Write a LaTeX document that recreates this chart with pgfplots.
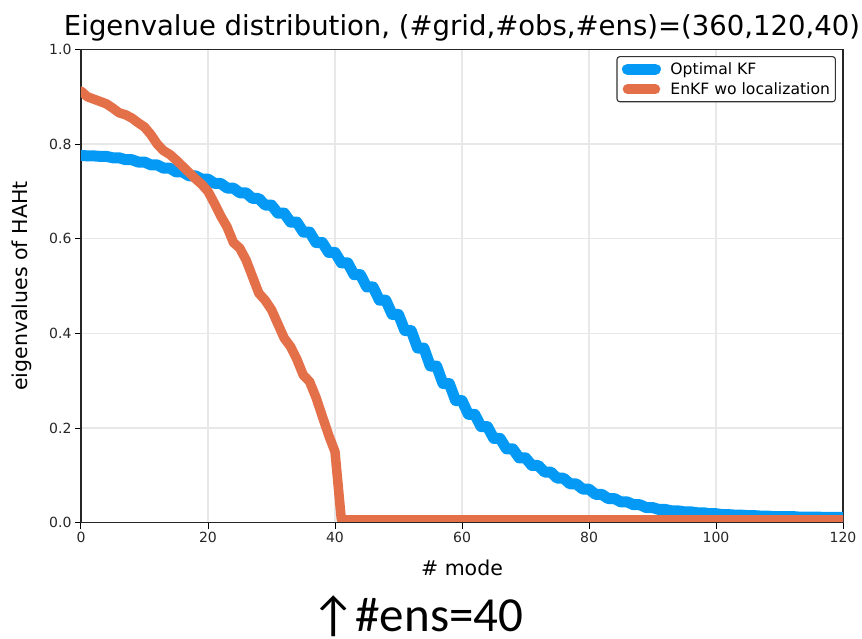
\documentclass[border=0pt]{standalone}
\usepackage{pgfplots}
\pgfplotsset{compat=1.18}
\usepackage{fontspec}
\setmainfont{DejaVu Sans}
\newfontfamily\notefont{Carlito}
\definecolor{kfblue}{RGB}{3,153,245}
\definecolor{enkforange}{RGB}{228,112,73}

% eigenvalues of H A H^T for the optimal Kalman filter (modes come in pairs)
\pgfplotstableread{
x y
0 0.776
1 0.775
2 0.775
3 0.774
4 0.774
5 0.771
6 0.771
7 0.767
8 0.767
9 0.762
10 0.762
11 0.756
12 0.756
13 0.749
14 0.749
15 0.741
16 0.741
17 0.733
18 0.733
19 0.726
20 0.726
21 0.717
22 0.717
23 0.707
24 0.707
25 0.697
26 0.697
27 0.685
28 0.685
29 0.671
30 0.671
31 0.654
32 0.654
33 0.635
34 0.635
35 0.614
36 0.614
37 0.592
38 0.592
39 0.571
40 0.571
41 0.549
42 0.549
43 0.524
44 0.524
45 0.498
46 0.498
47 0.470
48 0.470
49 0.440
50 0.440
51 0.406
52 0.406
53 0.369
54 0.369
55 0.331
56 0.331
57 0.294
58 0.294
59 0.258
60 0.258
61 0.229
62 0.229
63 0.203
64 0.203
65 0.178
66 0.178
67 0.156
68 0.156
69 0.137
70 0.137
71 0.121
72 0.121
73 0.107
74 0.107
75 0.094
76 0.094
77 0.082
78 0.082
79 0.071
80 0.071
81 0.060
82 0.060
83 0.051
84 0.051
85 0.044
86 0.044
87 0.038
88 0.038
89 0.032
90 0.032
91 0.028
92 0.028
93 0.025
94 0.025
95 0.023
96 0.023
97 0.021
98 0.021
99 0.019
100 0.019
101 0.017
102 0.017
103 0.016
104 0.016
105 0.015
106 0.015
107 0.014
108 0.014
109 0.013
110 0.013
111 0.013
112 0.013
113 0.012
114 0.012
115 0.012
116 0.012
117 0.011
118 0.011
119 0.011
120 0.011
}\optimalkf

% eigenvalues for the 40-member EnKF without localization
\pgfplotstableread{
x y
0 0.912
1 0.900
2 0.895
3 0.890
4 0.885
5 0.876
6 0.866
7 0.862
8 0.855
9 0.845
10 0.836
11 0.820
12 0.800
13 0.786
14 0.778
15 0.766
16 0.753
17 0.740
18 0.727
19 0.715
20 0.700
21 0.675
22 0.648
23 0.625
24 0.592
25 0.580
26 0.555
27 0.520
28 0.485
29 0.470
30 0.450
31 0.420
32 0.390
33 0.372
34 0.345
35 0.312
36 0.298
37 0.265
38 0.225
39 0.185
40 0.150
41 0.006
120 0.006
}\enkf

\begin{document}
\begin{tikzpicture}[x=1pt,y=1pt]
\path[use as bounding box] (0,0) rectangle (862,638);
\begin{axis}[
  at={(81pt,115.3pt)}, anchor=south west,
  scale only axis, width=762pt, height=473.3pt,
  xmin=0, xmax=120, ymin=0, ymax=1,
  xtick={0,20,40,60,80,100,120},
  ytick={0,0.2,0.4,0.6,0.8,1},
  yticklabel style={/pgf/number format/.cd, fixed, fixed zerofill, precision=1},
  /pgf/number format/assume math mode=true,
  ticklabel style={font=\fontsize{14}{16}\selectfont, text=black!85},
  tick align=outside, major tick length=6pt,
  tick style={black, line width=1pt},
  xtick pos=bottom, ytick pos=left,
  grid=major,
  major grid style={line width=1.2pt, color=black!9},
  axis line style={black!85, line width=1.2pt},
  clip mode=individual,
  title={Eigenvalue distribution, (\#grid,\#obs,\#ens)=(360,120,40)},
  title style={at={(axis description cs:0.5,1.0158)}, anchor=base, font=\fontsize{27.5}{30}\selectfont, inner sep=0pt},
  xlabel={\# mode},
  xlabel style={at={(axis description cs:0.5,-0.1105)}, anchor=base, font=\fontsize{20.5}{24}\selectfont, inner sep=0pt},
  ylabel={eigenvalues of HAHt},
  ylabel style={at={(axis description cs:-0.0696,0.5)}, anchor=base, font=\fontsize{20.5}{24}\selectfont, inner sep=0pt},
  legend cell align=left,
  legend image code/.code={\draw[#1, line cap=round] (0pt,0pt) -- (28pt,0pt); \path (-2pt,0pt) (35pt,0pt);},
  legend style={at={(rel axis cs:0.9908,0.986)}, anchor=north east,
    font=\fontsize{15.6}{19}\selectfont, draw=black!80, line width=1.1pt,
    rounded corners=3pt, inner xsep=3pt, inner ysep=3.5pt, row sep=1.5pt,
    nodes={inner sep=2.5pt}},
]
\addplot[kfblue, line width=11pt, line join=round, line cap=round] table[x=x, y=y] {\optimalkf};
\addlegendentry{Optimal KF}
\addplot[enkforange, line width=9.5pt, line join=round, line cap=round] table[x=x, y=y] {\enkf};
\addlegendentry{EnKF wo localization}
\draw[black!85, line width=1.2pt] (rel axis cs:0,0) -- (rel axis cs:1,0);
\end{axis}
\node[anchor=base west, inner sep=0pt, font=\notefont\fontsize{49}{52}\selectfont] at (311,6.3) {↑\#ens=40};
\end{tikzpicture}
\end{document}
